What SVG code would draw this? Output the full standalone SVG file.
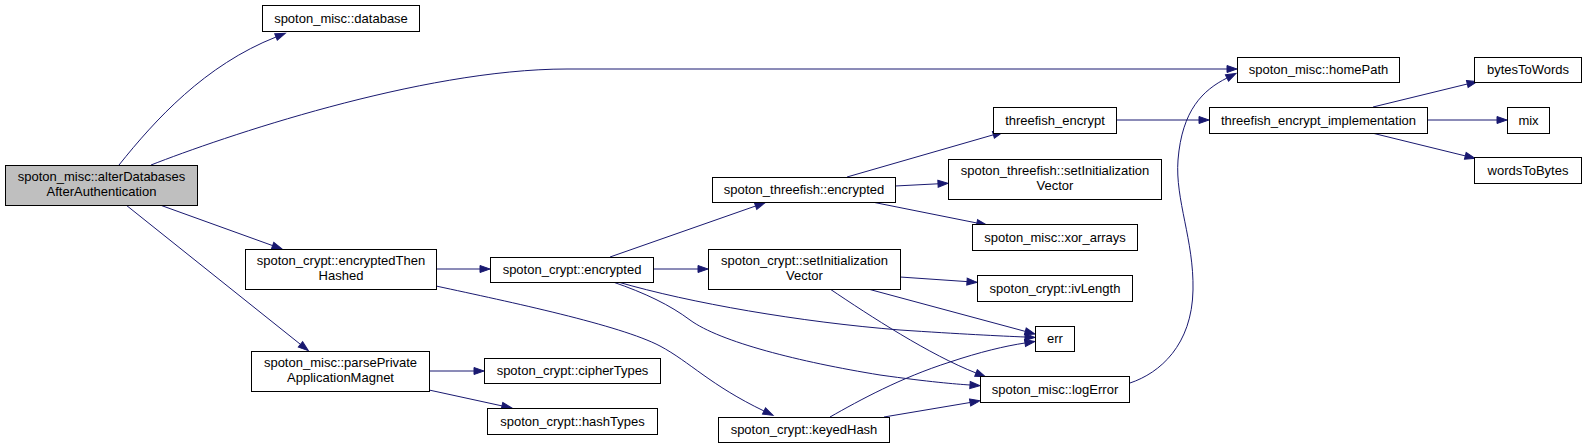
<svg xmlns="http://www.w3.org/2000/svg" width="1587" height="448" viewBox="0 0 1587 448">
<style>
.n rect{fill:#fff;stroke:#000;stroke-width:1}
.n.root rect{fill:#bfbfbf}
.n text{font-family:"Liberation Sans",Arial,sans-serif;font-size:13px;text-anchor:middle;fill:#000}
.e path{fill:none;stroke:#191970;stroke-width:1;marker-end:url(#ah)}
</style>
<defs>
<marker id="ah" markerUnits="userSpaceOnUse" markerWidth="10" markerHeight="7" refX="0" refY="3.5" orient="auto" overflow="visible">
<path d="M0,0 L10,3.5 L0,7 z" fill="#191970" stroke="#191970" stroke-width="1"/>
</marker>
</defs>
<rect width="1587" height="448" fill="#fff"/>
<g id="edges" class="e">
<path d="M119,165 C155,120 205,65 276,37"/>
<path d="M151,165 C220,138 420,69 567,69 L1227,69"/>
<path d="M160,205 L272.6,245.6"/>
<path d="M126,205 L300.5,344.4"/>
<path d="M436,269 L480,269"/>
<path d="M436,286 C510,302 620,325 660,346 C690,362 710,385 764,411"/>
<path d="M429,371 L474,371"/>
<path d="M429,390 L502,405.9"/>
<path d="M610,257 L755.6,206"/>
<path d="M653,269 L698,269"/>
<path d="M618,282 C690,303 800,322 900,330 C960,334 1000,336 1025,337"/>
<path d="M613,282 C645,293 670,305 690,320 C720,342 800,362 880,375 C930,382 955,384 970,385"/>
<path d="M847,177 L993.4,134.8"/>
<path d="M895,186 L938,183.8"/>
<path d="M872,202 L976.9,223"/>
<path d="M900,277 L967,281.6"/>
<path d="M868,289 L1025.3,331.4"/>
<path d="M830,289 C870,316 930,355 976,373"/>
<path d="M830,417 C860,400 900,378 950,362 C980,352 1005,346 1025,343"/>
<path d="M884,417 L970.1,402.5"/>
<path d="M1130,383 C1160,373 1192,345 1193,290 C1194,240 1175,200 1178,160 C1182,110 1203,90 1227,78"/>
<path d="M1116,120 L1199,120"/>
<path d="M1373,107 L1467.3,84"/>
<path d="M1427,120 L1497,120"/>
<path d="M1372,133 L1465.3,155.9"/>
</g>
<g id="n_alter" class="n root"><rect x="5.5" y="165.5" width="192" height="40"/><text x="101.5" y="181">spoton_misc::alterDatabases</text><text x="101.5" y="196">AfterAuthentication</text></g>
<g id="n_database" class="n"><rect x="262.5" y="5.5" width="157" height="26"/><text x="341" y="22.5">spoton_misc::database</text></g>
<g id="n_encThenHashed" class="n"><rect x="245.5" y="249.5" width="191" height="40"/><text x="341" y="265">spoton_crypt::encryptedThen</text><text x="341" y="280">Hashed</text></g>
<g id="n_parsePrivate" class="n"><rect x="251.5" y="351.5" width="178" height="40"/><text x="340.5" y="367">spoton_misc::parsePrivate</text><text x="340.5" y="382">ApplicationMagnet</text></g>
<g id="n_cryptEncrypted" class="n"><rect x="490.5" y="257.5" width="163" height="25"/><text x="572" y="274">spoton_crypt::encrypted</text></g>
<g id="n_cipherTypes" class="n"><rect x="484.5" y="358.5" width="176" height="25"/><text x="572.5" y="375">spoton_crypt::cipherTypes</text></g>
<g id="n_hashTypes" class="n"><rect x="487.5" y="408.5" width="170" height="26"/><text x="572.5" y="425.5">spoton_crypt::hashTypes</text></g>
<g id="n_tfEncrypted" class="n"><rect x="712.5" y="177.5" width="183" height="25"/><text x="804" y="194">spoton_threefish::encrypted</text></g>
<g id="n_cryptSetIV" class="n"><rect x="708.5" y="249.5" width="192" height="40"/><text x="804.5" y="265">spoton_crypt::setInitialization</text><text x="804.5" y="280">Vector</text></g>
<g id="n_keyedHash" class="n"><rect x="718.5" y="417.5" width="171" height="25"/><text x="804" y="434">spoton_crypt::keyedHash</text></g>
<g id="n_tfEncrypt" class="n"><rect x="993.5" y="107.5" width="123" height="26"/><text x="1055" y="124.5">threefish_encrypt</text></g>
<g id="n_tfSetIV" class="n"><rect x="948.5" y="159.5" width="213" height="40"/><text x="1055" y="175">spoton_threefish::setInitialization</text><text x="1055" y="190">Vector</text></g>
<g id="n_xor" class="n"><rect x="972.5" y="224.5" width="165" height="26"/><text x="1055" y="241.5">spoton_misc::xor_arrays</text></g>
<g id="n_ivLength" class="n"><rect x="977.5" y="275.5" width="155" height="26"/><text x="1055" y="292.5">spoton_crypt::ivLength</text></g>
<g id="n_err" class="n"><rect x="1035.5" y="326.5" width="39" height="25"/><text x="1055" y="343">err</text></g>
<g id="n_logError" class="n"><rect x="980.5" y="376.5" width="149" height="26"/><text x="1055" y="393.5">spoton_misc::logError</text></g>
<g id="n_homePath" class="n"><rect x="1237.5" y="57.5" width="162" height="25"/><text x="1318.5" y="74">spoton_misc::homePath</text></g>
<g id="n_tfImpl" class="n"><rect x="1209.5" y="107.5" width="218" height="26"/><text x="1318.5" y="124.5">threefish_encrypt_implementation</text></g>
<g id="n_bytesToWords" class="n"><rect x="1474.5" y="57.5" width="107" height="25"/><text x="1528" y="74">bytesToWords</text></g>
<g id="n_mix" class="n"><rect x="1507.5" y="107.5" width="42" height="26"/><text x="1528.5" y="124.5">mix</text></g>
<g id="n_wordsToBytes" class="n"><rect x="1474.5" y="157.5" width="107" height="26"/><text x="1528" y="174.5">wordsToBytes</text></g>
</svg>
